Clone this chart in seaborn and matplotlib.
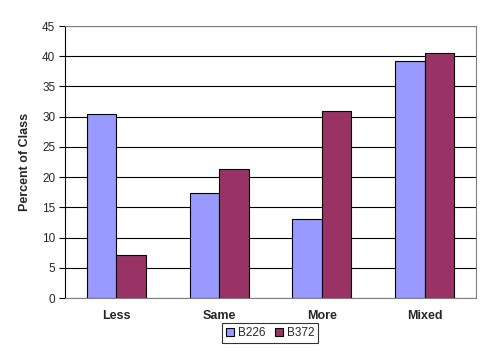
import pandas as pd
import matplotlib.pyplot as plt
import seaborn as sns

# data
categories = ["Less", "Same", "More", "Mixed"]
b226 = [30.4, 17.4, 13.1, 39.2]
b372 = [7.1, 21.4, 30.9, 40.5]

df = pd.DataFrame({
    "category": categories * 2,
    "value": b226 + b372,
    "group": ["B226"] * 4 + ["B372"] * 4,
})

sns.set_style("white")
plt.rcParams["font.family"] = ["Liberation Sans", "DejaVu Sans"]

fig = plt.figure(figsize=(4.91, 3.52), dpi=100)
ax = fig.add_axes([0.1324, 0.1534, 0.837, 0.7727])

sns.barplot(data=df, x="category", y="value", hue="group",
            palette=["#9999FF", "#993366"], width=0.575, gap=0,
            edgecolor="black", linewidth=0.8, saturation=1, ax=ax)

# Decorations
ax.set_ylim(0, 45)
ax.set_xlim(-0.5, 3.5)
ax.set_yticks(range(0, 46, 5))
ax.yaxis.grid(True, color="black", linewidth=0.8)
ax.set_axisbelow(True)
for side in ["top", "right", "bottom"]:
    ax.spines[side].set_color("#808080")
    ax.spines[side].set_linewidth(0.8)
ax.spines["left"].set_color("black")
ax.spines["left"].set_linewidth(0.8)
ax.tick_params(axis="y", left=True, length=4, width=0.8, color="black",
               labelsize=8.5, pad=3)
ax.tick_params(axis="x", bottom=False, labelsize=9, pad=5)
for lbl in ax.get_xticklabels():
    lbl.set_fontweight("bold")
ax.set_xlabel("")
ax.set_ylabel("Percent of Class", fontsize=9, fontweight="bold", labelpad=8)

leg = ax.legend(loc="upper center", bbox_to_anchor=(0.55, 0.083),
                bbox_transform=fig.transFigure, ncol=2, frameon=True,
                fancybox=False, edgecolor="black", fontsize=8.5,
                handlelength=0.7, handleheight=0.7, handletextpad=0.3,
                columnspacing=0.8, borderpad=0.35, borderaxespad=0)
leg.get_frame().set_linewidth(0.8)

fig.savefig("out.png", dpi=100)
